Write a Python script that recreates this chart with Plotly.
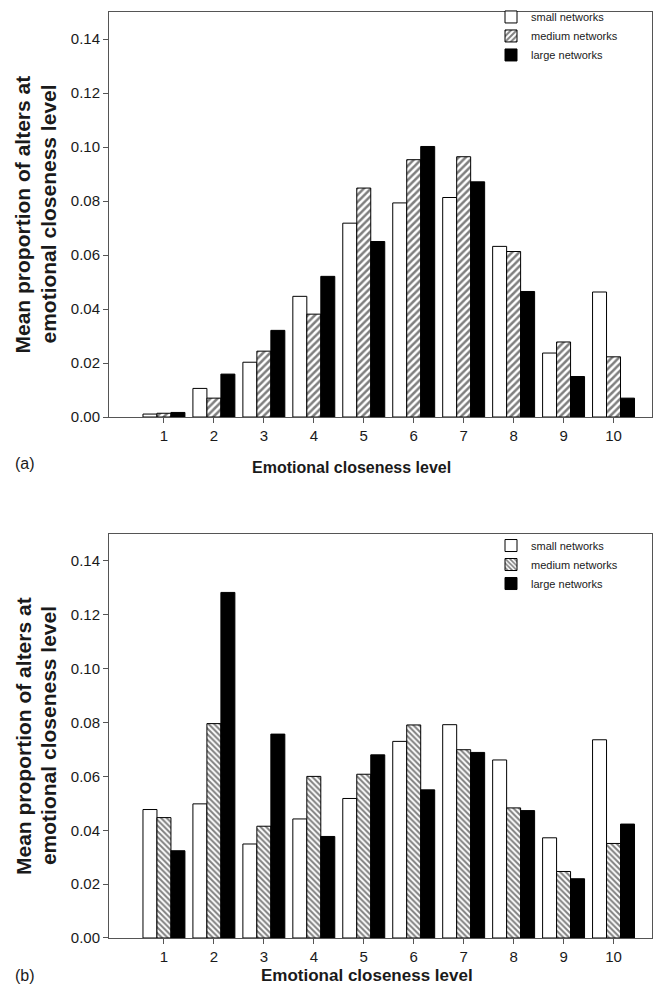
import plotly.graph_objects as go

levels = [1, 2, 3, 4, 5, 6, 7, 8, 9, 10]
tick_labels = ["1", "2", "3", "4", "5", "6", "7", "8", "9", "10"]
y_ticks = [0.00, 0.02, 0.04, 0.06, 0.08, 0.10, 0.12, 0.14]
y_tick_labels = ["0.00", "0.02", "0.04", "0.06", "0.08", "0.10", "0.12", "0.14"]

series_names = ["small networks", "medium networks", "large networks"]

# Panel (a)
a_small = [0.0011, 0.0106, 0.0203, 0.0447, 0.0718, 0.0793, 0.0813, 0.0632, 0.0237, 0.0463]
a_medium = [0.0014, 0.0070, 0.0244, 0.0381, 0.0848, 0.0953, 0.0964, 0.0613, 0.0278, 0.0223]
a_large = [0.0017, 0.0159, 0.0321, 0.0521, 0.0650, 0.1002, 0.0871, 0.0465, 0.0150, 0.0070]

# Panel (b)
b_small = [0.0477, 0.0498, 0.0349, 0.0442, 0.0518, 0.0730, 0.0792, 0.0661, 0.0372, 0.0736]
b_medium = [0.0447, 0.0796, 0.0415, 0.0600, 0.0608, 0.0791, 0.0699, 0.0483, 0.0247, 0.0351]
b_large = [0.0324, 0.1283, 0.0757, 0.0377, 0.0680, 0.0550, 0.0689, 0.0473, 0.0220, 0.0423]

FONT = "Liberation Sans, Arial, Helvetica, sans-serif"
LINE = "#555555"
TXT = "#1a1a1a"

fig = go.Figure()

def add_panel(vals, xa, ya, legend, hatch, hsize):
    styles = [
        dict(color="white", pattern=None),
        dict(color="white", pattern=dict(shape=hatch, fgcolor="black", bgcolor="white",
                                          size=hsize, solidity=0.5, fillmode="overlay")),
        dict(color="black", pattern=None),
    ]
    for name, v, st in zip(series_names, vals, styles):
        marker = dict(color=st["color"], line=dict(color="black", width=1))
        if st["pattern"] is not None:
            marker["pattern"] = st["pattern"]
        fig.add_trace(go.Bar(x=levels, y=v, name=name, marker=marker,
                             xaxis=xa, yaxis=ya, legend=legend))

add_panel([a_small, a_medium, a_large], "x", "y", "legend", "/", 5)
add_panel([b_small, b_medium, b_large], "x2", "y2", "legend2", "\\", 4)

xcommon = dict(range=[-0.1, 10.77], tickmode="array", tickvals=levels, ticktext=tick_labels,
               showline=True, linecolor=LINE, linewidth=1, mirror=True,
               ticks="outside", ticklen=5, tickcolor=LINE, showgrid=False, zeroline=False,
               tickfont=dict(family=FONT, size=15, color=TXT))
ycommon = dict(range=[0, 0.150], tickmode="array", tickvals=y_ticks, ticktext=y_tick_labels,
               showline=True, linecolor=LINE, linewidth=1, mirror=True,
               ticks="outside", ticklen=5, tickcolor=LINE, showgrid=False, zeroline=False,
               tickfont=dict(family=FONT, size=15, color=TXT))

def ann(text, x, y, size, angle=0, anchor="center", bold=False):
    return dict(text=f"<b>{text}</b>" if bold else text, xref="paper", yref="paper",
                x=x, y=y, xanchor=anchor, yanchor="middle", showarrow=False,
                textangle=angle, font=dict(family=FONT, size=size, color=TXT))

annotations = [
    # y-axis titles (two lines each)
    ann("Mean proportion of alters at", -0.1584, 0.7813, 21, -90, bold=True),
    ann("emotional closeness level", -0.1123, 0.7813, 21, -90, bold=True),
    ann("Mean proportion of alters at", -0.1584, 0.2181, 21, -90, bold=True),
    ann("emotional closeness level", -0.1123, 0.2181, 21, -90, bold=True),
    # x-axis titles
    ann("Emotional closeness level", 0.4457, 0.5076, 16, bold=True),
    ann("Emotional closeness level", 0.475, -0.041, 17, bold=True),
    # panel labels
    ann("(a)", -0.1768, 0.5119, 16, anchor="left"),
    ann("(b)", -0.1768, -0.040, 16, anchor="left"),
]

fig.update_layout(
    width=661, height=988,
    margin=dict(l=101, r=17, t=4, b=58, autoexpand=False),
    plot_bgcolor="white", paper_bgcolor="white",
    barmode="group", bargap=0.16, bargroupgap=0,
    xaxis=dict(xcommon, domain=[0, 1], anchor="y"),
    yaxis=dict(ycommon, domain=[0.5626, 1], anchor="x"),
    xaxis2=dict(xcommon, domain=[0, 1], anchor="y2"),
    yaxis2=dict(ycommon, domain=[0, 0.4363], anchor="x2"),
    legend=dict(x=0.7035, y=1.0103, xanchor="left", yanchor="top",
                font=dict(family=FONT, size=11, color=TXT),
                bgcolor="rgba(0,0,0,0)", tracegroupgap=0, itemwidth=30),
    legend2=dict(x=0.7035, y=0.4395, xanchor="left", yanchor="top",
                 font=dict(family=FONT, size=11, color=TXT),
                 bgcolor="rgba(0,0,0,0)", tracegroupgap=0, itemwidth=30),
    showlegend=True,
    annotations=annotations,
)

fig.write_html("out.html")
